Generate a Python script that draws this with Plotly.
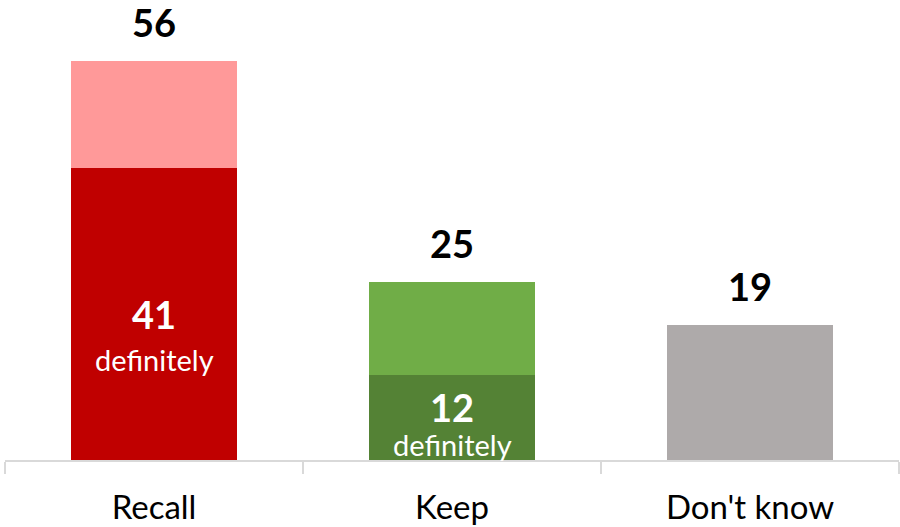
import plotly.graph_objects as go

categories = ["Recall", "Keep", "Don't know"]
definitely = [41, 12, 0]
other = [15, 13, 19]
totals = [d + o for d, o in zip(definitely, other)]

dark_colors = ["#C00000", "#548235", "#AEAAAA"]
light_colors = ["#FF9999", "#70AD47", "#AEAAAA"]

FONT = "Lato"

fig = go.Figure()
fig.add_bar(x=categories, y=definitely, marker=dict(color=dark_colors, line=dict(width=0)),
            hoverinfo="skip")
fig.add_bar(x=categories, y=other, marker=dict(color=light_colors, line=dict(width=0)),
            hoverinfo="skip")

# totals above bars
for c, t in zip(categories, totals):
    fig.add_annotation(x=c, y=t, text=f"<b>{t}</b>", showarrow=False, yanchor="middle",
                       yshift=39, font=dict(family=FONT, size=38, color="black"))

# inner "definitely" labels
shifts = {"Recall": (0, -46), "Keep": (10, -27)}
for c, d in zip(categories, definitely):
    if d <= 0:
        continue
    ns, ds = shifts[c]
    fig.add_annotation(x=c, y=d / 2, text=f"<b>{d}</b>", showarrow=False, yanchor="middle",
                       yshift=ns, font=dict(family=FONT, size=38, color="white"))
    fig.add_annotation(x=c, y=d / 2, text="definitely", showarrow=False, yanchor="middle",
                       yshift=ds, font=dict(family=FONT, size=29, color="white"))

fig.update_layout(
    barmode="stack",
    bargap=0.44,
    showlegend=False,
    width=900, height=527,
    margin=dict(l=5, r=1, t=0, b=67),
    paper_bgcolor="white",
    plot_bgcolor="white",
    xaxis=dict(
        type="category",
        range=[-0.5, 2.5],
        tickson="boundaries",
        ticks="outside",
        ticklen=12,
        tickwidth=2,
        tickcolor="#D9D9D9",
        showline=True,
        linecolor="#D9D9D9",
        linewidth=2,
        showgrid=False,
        ticklabelstandoff=17,
        tickfont=dict(family=FONT, size=33, color="black"),
        fixedrange=True,
    ),
    yaxis=dict(
        range=[0, 64.56],
        visible=False,
        showgrid=False,
        zeroline=False,
        fixedrange=True,
    ),
)

fig.write_html("out.html", config={"displayModeBar": False},
               post_script="document.body.style.margin='0';")
